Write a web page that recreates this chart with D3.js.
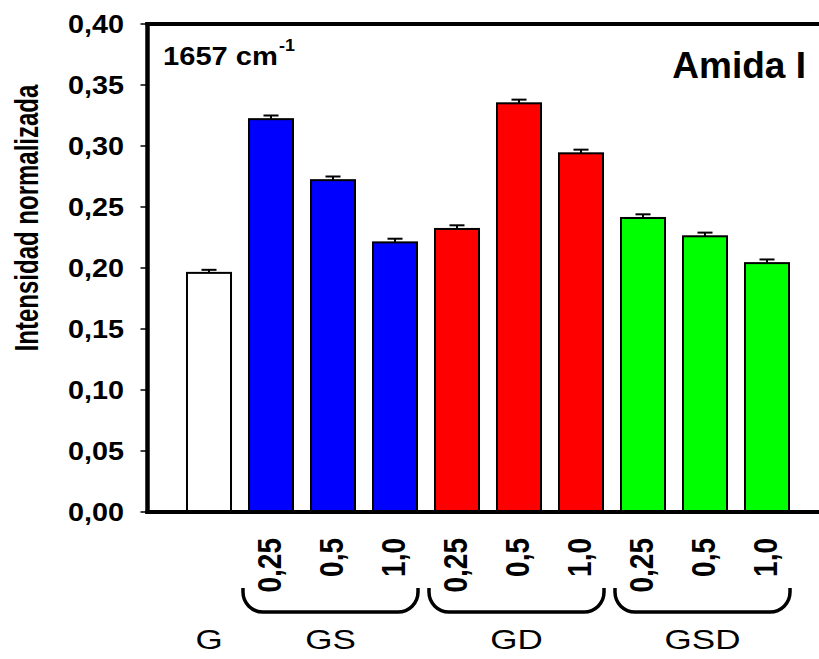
<!DOCTYPE html>
<html>
<head>
<meta charset="utf-8">
<script src="https://cdn.jsdelivr.net/npm/d3@7"></script>
<style>
  body { margin: 0; background: #fff; }
  svg { display: block; font-family: "Liberation Sans", Arial, sans-serif; }
</style>
</head>
<body>
<div id="chart"></div>
<script>
// --- données ---
const groups = ["G", "GS", "GD", "GSD"];
const barIds = ["G", "GS-0.25", "GS-0.5", "GS-1.0", "GD-0.25", "GD-0.5", "GD-1.0", "GSD-0.25", "GSD-0.5", "GSD-1.0"];
const barGroup = ["G", "GS", "GS", "GS", "GD", "GD", "GD", "GSD", "GSD", "GSD"];
const concLabels = ["", "0,25", "0,5", "1,0", "0,25", "0,5", "1,0", "0,25", "0,5", "1,0"];
const values = [0.196, 0.322, 0.272, 0.221, 0.232, 0.335, 0.294, 0.241, 0.226, 0.204];
const errors = [0.0025, 0.003, 0.003, 0.003, 0.003, 0.003, 0.003, 0.003, 0.003, 0.003];
const yTicks = [0, 0.05, 0.10, 0.15, 0.20, 0.25, 0.30, 0.35, 0.40];
const groupColors = { G: "#ffffff", GS: "#0000ff", GD: "#ff0000", GSD: "#00ff00" };

const W = 819, H = 659;
const plotLeft = 147.5, plotTop = 24, plotBottom = 512;

const svg = d3.select("#chart").append("svg").attr("width", W).attr("height", H);

const y = d3.scaleLinear().domain([0, 0.4]).range([plotBottom, plotTop]);
const x = d3.scaleBand().domain(barIds).range([178, 798]).paddingInner(0.29).paddingOuter(0.145);
const bw = x.bandwidth();
const fmt = v => d3.format(".2f")(v).replace(".", ",");

// ticks de l'axe Y
svg.selectAll("line.tick").data(yTicks).enter().append("line")
  .attr("x1", plotLeft - 7).attr("x2", plotLeft)
  .attr("y1", d => y(d)).attr("y2", d => y(d))
  .attr("stroke", "#000").attr("stroke-width", 1.5);

svg.selectAll("text.ytick").data(yTicks).enter().append("text")
  .attr("transform", d => `translate(124,${y(d) + 9}) scale(1.15,1)`)
  .attr("text-anchor", "end")
  .style("font-size", "25px").style("font-weight", "bold")
  .text(fmt);

// barres
svg.selectAll("rect.bar").data(values).enter().append("rect")
  .attr("x", (d, i) => x(barIds[i]))
  .attr("y", d => y(d))
  .attr("width", bw)
  .attr("height", d => y(0) - y(d))
  .attr("fill", (d, i) => groupColors[barGroup[i]])
  .attr("stroke", "#000").attr("stroke-width", 2);

// barres d'erreur
values.forEach((v, i) => {
  const cx = x(barIds[i]) + bw / 2;
  svg.append("line").attr("x1", cx).attr("x2", cx)
    .attr("y1", y(v)).attr("y2", y(v + errors[i]))
    .attr("stroke", "#000").attr("stroke-width", 2);
  svg.append("line").attr("x1", cx - 7.5).attr("x2", cx + 7.5)
    .attr("y1", y(v + errors[i])).attr("y2", y(v + errors[i]))
    .attr("stroke", "#000").attr("stroke-width", 2);
});

// cadre (gauche, haut, bas)
svg.append("line").attr("x1", plotLeft).attr("x2", plotLeft).attr("y1", plotTop - 2).attr("y2", plotBottom + 2)
  .attr("stroke", "#000").attr("stroke-width", 4.5);
svg.append("line").attr("x1", plotLeft - 2).attr("x2", W).attr("y1", plotTop).attr("y2", plotTop)
  .attr("stroke", "#000").attr("stroke-width", 4);
svg.append("line").attr("x1", plotLeft - 2).attr("x2", W).attr("y1", plotBottom).attr("y2", plotBottom)
  .attr("stroke", "#000").attr("stroke-width", 4);

// étiquettes de concentration (verticales)
concLabels.forEach((t, i) => {
  if (!t) return;
  const cx = x(barIds[i]) + bw / 2;
  svg.append("text")
    .attr("transform", `translate(${cx + 10},538) scale(1.2,1) rotate(-90)`)
    .attr("text-anchor", "end")
    .style("font-size", "28px").style("font-weight", "bold")
    .text(t);
});

// accolades + noms de groupes
const bTop = 588, bBot = 612, r = 20;
groups.forEach(g => {
  const ids = barIds.filter((d, i) => barGroup[i] === g);
  let cx;
  if (ids.length > 1) {
    const x0 = x(ids[0]) - 6, x1 = x(ids[ids.length - 1]) + bw + 1;
    svg.append("path")
      .attr("d", `M${x0},${bTop} L${x0},${bBot - r} A${r},${r} 0 0 0 ${x0 + r},${bBot} L${x1 - r},${bBot} A${r},${r} 0 0 0 ${x1},${bBot - r} L${x1},${bTop}`)
      .attr("fill", "none").attr("stroke", "#000").attr("stroke-width", 3.5);
    cx = (x0 + x1) / 2;
  } else {
    cx = x(ids[0]) + bw / 2;
  }
  svg.append("text")
    .attr("transform", `translate(${cx},649) scale(1.25,1)`)
    .attr("text-anchor", "middle")
    .style("font-size", "28px")
    .text(g);
});

// titre axe Y
svg.append("text")
  .attr("transform", "translate(38,218) scale(1.4,1) rotate(-90)")
  .attr("text-anchor", "middle")
  .style("font-size", "24px").style("font-weight", "bold")
  .text("Intensidad normalizada");

// annotations
const ann = svg.append("text")
  .attr("transform", "translate(163,65) scale(1.12,1)")
  .style("font-size", "26px").style("font-weight", "bold");
ann.append("tspan").text("1657 cm");
ann.append("tspan").attr("dy", -14).attr("dx", 1).style("font-size", "16px").text("-1");

svg.append("text")
  .attr("x", 806).attr("y", 78)
  .attr("text-anchor", "end")
  .style("font-size", "37px").style("font-weight", "bold")
  .text("Amida I");
</script>
</body>
</html>
